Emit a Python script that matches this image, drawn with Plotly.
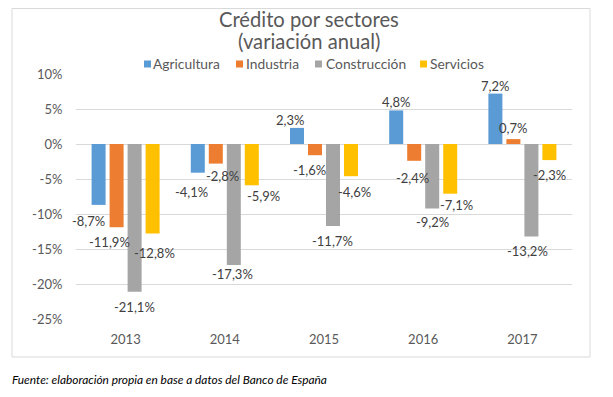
import plotly.graph_objects as go

# ---- data ----
years = ["2013", "2014", "2015", "2016", "2017"]
agricultura = [-8.7, -4.1, 2.3, 4.8, 7.2]
industria = [-11.9, -2.8, -1.6, -2.4, 0.7]
construccion = [-21.1, -17.3, -11.7, -9.2, -13.2]
servicios = [-12.8, -5.9, -4.6, -7.1, -2.3]
series_names = ["Agricultura", "Industria", "Construcción", "Servicios"]
y_tick_values = [10, 5, 0, -5, -10, -15, -20, -25]
y_tick_labels = ["10%", "5%", "0%", "-5%", "-10%", "-15%", "-20%", "-25%"]
title_text = "Crédito por sectores"
subtitle_text = "(variación anual)"
source_text = "Fuente: elaboración propia en base a datos del Banco de España"

# ---- style ----
colors = ["#5B9BD5", "#ED7D31", "#A5A5A5", "#FFC000"]
FONT = "Lato"
GREY = "#595959"
OFF = 8                      # page body margin of the html document
W, H = 613 - OFF, 397 - OFF  # figure size so that it fits the window
PLOT_L, PLOT_T, PW, PH = 76, 74, 496, 245   # plot area in window pixels
ML, MT = PLOT_L - OFF, PLOT_T - OFF
MR, MB = W - ML - PW, H - MT - PH

def px_x(px):
    return (px - PLOT_L) / PW

def px_y(py):
    return (PLOT_T + PH - py) / PH

# label offsets in pixels (from category centre / bar end), per series, per year
label_dx = [
    [-37.6, -33.8, -34.0, -27.2, -27.4],
    [-16.6, -2.8, -15.0, -11.2, -9.4],
    [8.4, 7.2, 8.0, 8.8, 4.6],
    [28.4, 38.2, 30.0, 32.8, 26.6],
]
label_dy = [
    [-16.0, -19.0, 8.0, 8.7, 8.0],
    [-14.4, -12.0, -14.5, -17.0, 11.0],
    [-15.0, -8.6, -15.0, -14.0, -15.0],
    [-19.0, -10.4, -15.5, -11.0, -14.6],
]
# legend layout (window pixels): swatch left edges and text left edges
legend_swatch_x = [144, 236, 315, 420]
legend_text_x = [151, 244, 324, 428]
LEGEND_Y = 64

all_series = [agricultura, industria, construccion, servicios]

fig = go.Figure()
for name, vals, col in zip(series_names, all_series, colors):
    fig.add_trace(go.Bar(x=years, y=vals, name=name, marker_color=col,
                         marker_line_width=0, showlegend=False))

def fmt(v):
    return f"{v:.1f}".replace(".", ",") + "%"

annotations = []
for si, vals in enumerate(all_series):
    for yi, v in enumerate(vals):
        annotations.append(dict(
            x=yi, y=v, xref="x", yref="y", text=fmt(v), showarrow=False,
            xshift=label_dx[si][yi], yshift=label_dy[si][yi],
            font=dict(family=FONT, size=13, color="#404040"),
            xanchor="center", yanchor="middle"))

annotations += [
    dict(x=px_x(309), y=px_y(19), xref="paper", yref="paper", text=title_text,
         showarrow=False, xanchor="center", yanchor="middle",
         font=dict(family=FONT, size=20.2, color=GREY)),
    dict(x=px_x(309), y=px_y(41.5), xref="paper", yref="paper", text=subtitle_text,
         showarrow=False, xanchor="center", yanchor="middle",
         font=dict(family=FONT, size=20.2, color=GREY)),
    dict(x=px_x(10), y=px_y(380), xref="paper", yref="paper",
         text="<i>" + source_text + "</i>",
         showarrow=False, xanchor="left", yanchor="middle",
         font=dict(family=FONT, size=11.9, color="#000000")),
]

shapes = [dict(type="rect", xref="paper", yref="paper",
               x0=px_x(12), x1=px_x(590), y0=px_y(357), y1=px_y(OFF + 0.5),
               line=dict(color="#D9D9D9", width=1), fillcolor="rgba(0,0,0,0)",
               layer="below")]

# legend: colour swatches + names
for name, col, sx, tx in zip(series_names, colors, legend_swatch_x, legend_text_x):
    shapes.append(dict(type="rect", xref="paper", yref="paper",
                       x0=px_x(sx), x1=px_x(sx + 7),
                       y0=px_y(LEGEND_Y + 3.5), y1=px_y(LEGEND_Y - 3.5),
                       line=dict(width=0), fillcolor=col))
    annotations.append(dict(x=px_x(tx), y=px_y(LEGEND_Y), xref="paper", yref="paper",
                            text=name, showarrow=False, xanchor="left",
                            yanchor="middle",
                            font=dict(family=FONT, size=13.8, color=GREY)))

fig.update_layout(
    width=W, height=H,
    margin=dict(l=ML, r=MR, t=MT, b=MB, pad=0),
    paper_bgcolor="white", plot_bgcolor="white",
    barmode="group", bargap=0.274, bargroupgap=0.222,
    font=dict(family=FONT, size=13, color=GREY),
    showlegend=False,
    annotations=annotations,
    shapes=shapes,
)
fig.update_xaxes(type="category", range=[-0.5, len(years) - 0.5],
                 showgrid=False, showline=False, zeroline=False,
                 ticks="outside", ticklen=8, tickcolor="rgba(0,0,0,0)",
                 tickfont=dict(family=FONT, size=13, color=GREY))
fig.update_yaxes(range=[-25, 10], tickvals=y_tick_values, ticktext=y_tick_labels,
                 showgrid=True, gridcolor="#D9D9D9", gridwidth=1,
                 zeroline=False, showline=False,
                 ticks="outside", ticklen=10, tickcolor="rgba(0,0,0,0)",
                 tickfont=dict(family=FONT, size=13, color=GREY))

fig.write_html("out.html")
